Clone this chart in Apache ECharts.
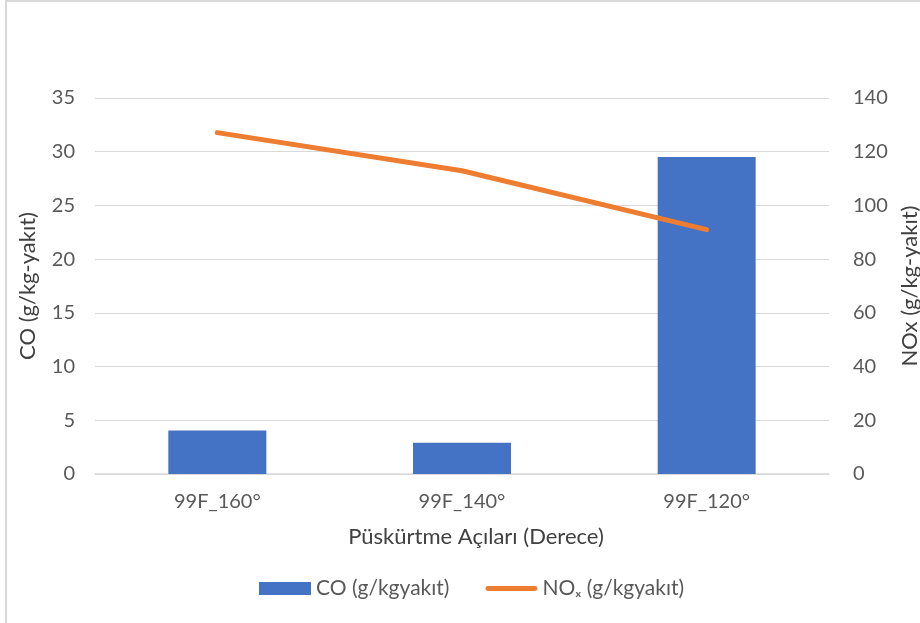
<!DOCTYPE html>
<html>
<head>
<meta charset="utf-8">
<script src="https://cdn.jsdelivr.net/npm/echarts@6/dist/echarts.min.js"></script>
<style>
html,body{margin:0;padding:0;background:#fff;overflow:hidden;width:920px;height:623px;}
#c{width:920px;height:623px;}
</style>
</head>
<body>
<div id="c"></div>
<script>
const categories = ['99F_160°', '99F_140°', '99F_120°'];
const coValues = [4.05, 2.9, 29.5];
const noxValues = [127.1, 112.9, 91.0];
const leftTicks = {min: 0, max: 35, interval: 5};
const rightTicks = {min: 0, max: 140, interval: 20};

const FONT = "Lato, 'Open Sans', sans-serif";
const TXT = '#595959';
const FS = 20;
const chart = echarts.init(document.getElementById('c'), null, {renderer: 'canvas', width: 920, height: 623});
chart.setOption({
  backgroundColor: '#ffffff',
  animation: false,
  textStyle: {fontFamily: FONT},
  graphic: [
    {type: 'rect', shape: {x: 5, y: 0, width: 2, height: 623}, style: {fill: '#d9d9d9'}, silent: true},
    {type: 'rect', shape: {x: 5, y: 0, width: 915, height: 2}, style: {fill: '#d9d9d9'}, silent: true}
  ],
  grid: {left: 95, right: 91, top: 98, bottom: 149, containLabel: false, outerBoundsMode: 'none'},
  legend: {
    top: 573,
    left: 254,
    itemWidth: 52,
    itemHeight: 13,
    itemGap: 36,
    itemTextGap: 7,
    symbolKeepAspect: true,
    textStyle: {fontSize: 21, color: TXT, fontFamily: FONT},
    data: [
      {name: 'CO (g/kgyakıt)', icon: 'rect'},
      {name: 'NOₓ (g/kgyakıt)', icon: 'path://M2,0 L50,0 A2.5,2.5 0 0 1 50,5 L2,5 A2.5,2.5 0 0 1 2,0 Z'}
    ]
  },
  xAxis: {
    type: 'category',
    data: categories,
    axisLine: {show: true, lineStyle: {color: '#d9d9d9', width: 1.5}},
    axisTick: {show: false},
    axisLabel: {fontSize: FS, color: TXT, margin: 18},
    name: 'Püskürtme Açıları (Derece)',
    nameLocation: 'middle',
    nameGap: 52,
    nameTextStyle: {fontSize: 22, color: '#404040', verticalAlign: 'top', padding: [0, 0, 0, 28]}
  },
  yAxis: [
    {
      type: 'value', min: leftTicks.min, max: leftTicks.max, interval: leftTicks.interval,
      axisLine: {show: false}, axisTick: {show: false},
      splitLine: {lineStyle: {color: '#d9d9d9', width: 1.2}},
      axisLabel: {fontSize: FS, color: TXT, margin: 20},
      name: 'CO (g/kg-yakıt)', nameLocation: 'middle', nameGap: 56, nameRotate: 90,
      nameTextStyle: {fontSize: 22, color: '#404040'}
    },
    {
      type: 'value', min: rightTicks.min, max: rightTicks.max, interval: rightTicks.interval,
      axisLine: {show: false}, axisTick: {show: false},
      splitLine: {show: false},
      axisLabel: {fontSize: FS, color: TXT, margin: 24},
      name: 'NOx (g/kg-yakıt)', nameLocation: 'middle', nameGap: 67, nameRotate: 90,
      nameTextStyle: {fontSize: 22, color: '#404040'}
    }
  ],
  series: [
    {
      name: 'CO (g/kgyakıt)', type: 'bar', yAxisIndex: 0, data: coValues,
      barWidth: 98, itemStyle: {color: '#4472c4'}
    },
    {
      name: 'NOₓ (g/kgyakıt)', type: 'line', yAxisIndex: 1, data: noxValues,
      symbol: 'none', showSymbol: false,
      lineStyle: {color: '#ed7d31', width: 5, cap: 'round', join: 'round'},
      itemStyle: {color: '#ed7d31'}
    }
  ]
});
</script>
</body>
</html>
